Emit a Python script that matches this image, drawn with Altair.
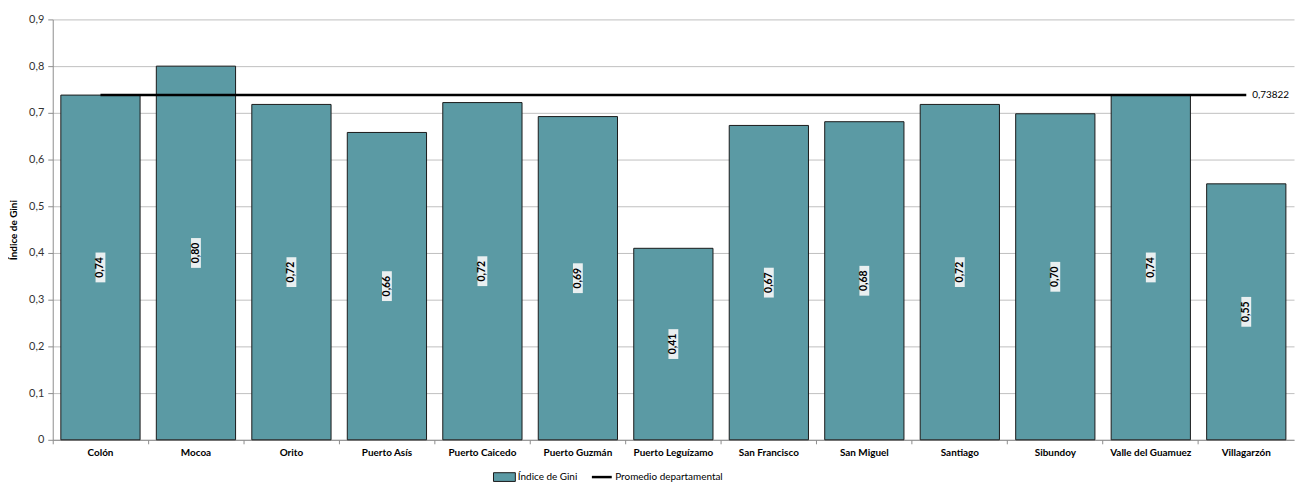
import altair as alt
import pandas as pd

categories = ["Colón", "Mocoa", "Orito", "Puerto Asís", "Puerto Caicedo", "Puerto Guzmán",
              "Puerto Leguízamo", "San Francisco", "San Miguel", "Santiago", "Sibundoy",
              "Valle del Guamuez", "Villagarzón"]
gini = [0.738, 0.800, 0.718, 0.658, 0.722, 0.692, 0.410, 0.673, 0.681, 0.718, 0.698, 0.738, 0.548]
promedio = 0.73822
y_ticks = [0, 0.1, 0.2, 0.3, 0.4, 0.5, 0.6, 0.7, 0.8, 0.9]

FONT = "Lato"
BAR = "#5b9aa4"

df = pd.DataFrame({
    "Municipio": categories,
    "Gini": gini,
    "Promedio": [promedio] * len(categories),
    "serie": ["Índice de Gini"] * len(categories),
    "serie2": ["Promedio departamental"] * len(categories),
})

xscale = alt.Scale(paddingInner=0.17, paddingOuter=0.085)
x_lab = alt.X("Municipio:N", sort=categories, title=None, scale=xscale,
              axis=alt.Axis(labelAngle=0, labelFontWeight="bold", labelFontSize=10,
                            labelColor="#000000", ticks=False, domainColor="#8c8c8c",
                            labelPadding=8, labelFont=FONT, orient="bottom"))
x_tick = alt.X("Municipio:N", sort=categories, title=None, scale=xscale,
               axis=alt.Axis(labels=False, ticks=True, tickSize=4, tickColor="#8c8c8c",
                             domain=False, grid=False, bandPosition=-0.1024,
                             orient="bottom"))
x_none = alt.X("Municipio:N", sort=categories, title=None, scale=xscale, axis=None)
yscale = alt.Scale(domain=[0, 0.9], nice=False)

base = alt.Chart(df)

bars = base.mark_bar(stroke="#1a1a1a", strokeWidth=1).encode(
    x=x_lab,
    y=alt.Y("Gini:Q", scale=yscale, title="Índice de Gini",
            axis=alt.Axis(values=y_ticks, labelExpr="replace(format(datum.value, '.1~f'), '.', ',')",
                          labelFontSize=11, labelColor="#333333", labelFont=FONT,
                          titleFont=FONT, titleFontSize=10, titleFontWeight="bold",
                          titleColor="#000000", titlePadding=10,
                          gridColor="#bfbfbf", gridWidth=1, domainColor="#8c8c8c",
                          tickColor="#8c8c8c", tickSize=5, labelPadding=4)),
    fill=alt.Fill("serie:N", scale=alt.Scale(range=[BAR]),
                  legend=alt.Legend(orient="none", legendX=443, legendY=449, title=None,
                                    symbolType="M-1,-0.4H1V0.4H-1Z", symbolSize=484,
                                    symbolStrokeColor="#1a1a1a", symbolStrokeWidth=1,
                                    labelFont=FONT, labelFontSize=10, labelColor="#000000",
                                    symbolOpacity=1, labelOffset=2)),
)

line = base.mark_line(strokeWidth=2.5).encode(
    x=x_tick,
    y=alt.Y("Promedio:Q", scale=yscale),
    stroke=alt.Stroke("serie2:N", scale=alt.Scale(range=["#000000"]),
                      legend=alt.Legend(orient="none", legendX=541, legendY=449, title=None,
                                        symbolType="stroke",
                                        symbolSize=400, symbolStrokeWidth=2.5,
                                        labelFont=FONT, labelFontSize=10,
                                        labelColor="#000000", labelOffset=2)),
)

avg_label = base.transform_filter(
    alt.datum.Municipio == categories[-1]
).transform_calculate(
    txt="replace(format(datum.Promedio, '.5f'), '.', ',')"
).mark_text(align="left", dx=6, fontSize=10, font=FONT, color="#000000").encode(
    x=x_none, y=alt.Y("Promedio:Q", scale=yscale), text="txt:N")

boxes = base.transform_calculate(mid="datum.Gini / 2").mark_point(
    shape="M-0.33,-1H0.33V1H-0.33Z", size=900, filled=True, fill="#e9eff0",
    opacity=1, strokeWidth=0).encode(x=x_none, y=alt.Y("mid:Q", scale=yscale))

texts = base.transform_calculate(
    mid="datum.Gini / 2",
    lab="replace(format(datum.Gini, '.2f'), '.', ',')"
).mark_text(angle=270, fontSize=10.5, fontWeight="bold", font=FONT, color="#000000").encode(
    x=x_none, y=alt.Y("mid:Q", scale=yscale), text="lab:N")

chart = alt.layer(bars, line, avg_label, boxes, texts).resolve_axis(x="independent").properties(
    width=1249, height=423,
    autosize=alt.AutoSizeParams(type="none"),
    padding={"left": 45, "top": 10, "right": 3, "bottom": 47},
).configure_view(stroke=None).configure_legend(padding=0)

chart.save("out.html", embed_options={"renderer": "svg", "actions": False})
